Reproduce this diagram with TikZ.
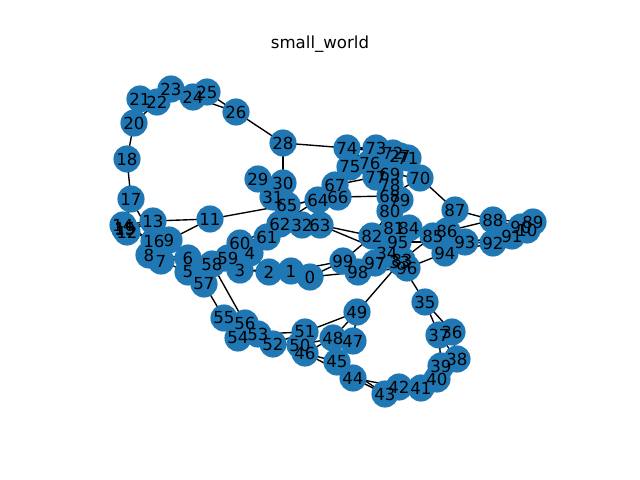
\documentclass[tikz,border=0pt]{standalone}
\usepackage{fontspec}
\setmainfont{DejaVu Sans}
\usetikzlibrary{backgrounds}
\definecolor{nodeblue}{HTML}{1F77B4}
\begin{document}
\begin{tikzpicture}[x=0.025cm,y=-0.025cm,
  vertex/.style={circle,fill=nodeblue,draw=none,minimum size=19.3pt,inner sep=0pt},
  vlabel/.style={inner sep=0pt,font=\fontsize{11.8}{12}\selectfont},
  link/.style={line width=0.98pt,black}]
\useasboundingbox (0,0) rectangle (640,480);
\node[vlabel] (title) at (320,44) {small\_world};
% vertices
\foreach \n/\x/\y in {
  0/310/277, 1/291/271, 2/269/272, 3/240/270, 4/250/253, 5/188/272, 6/188/258,
  7/161/261, 8/149/255, 9/169/240, 10/527/230, 11/210/219, 12/127/232, 13/153/221,
  14/123/225, 15/125/229, 16/154/241, 17/131/199, 18/127/159, 19/125/229, 20/134/123,
  21/140/99, 22/157/102, 23/171/89, 24/193/97, 25/207/92, 26/236/112, 27/400/156,
  28/283/143, 29/258/179, 30/283/183, 31/273/197, 32/302/225, 33/400/262, 34/387/253,
  35/425/302, 36/452/332, 37/439/335, 38/457/359, 39/441/366, 40/437/379, 41/421/388,
  42/399/387, 43/385/394, 44/353/378, 45/337/362, 46/305/353, 47/353/341, 48/333/338,
  49/357/312, 50/300/345, 51/305/332, 52/273/344, 53/258/334, 54/238/338, 55/224/318,
  56/245/323, 57/204/284, 58/212/264, 59/228/258, 60/240/243, 61/267/237, 62/280/224,
  63/320/225, 64/318/200, 65/287/205, 66/338/197, 67/335/185, 68/390/196, 69/390/174,
  70/420/178, 71/408/158, 72/393/153, 73/376/148, 74/347/148, 75/350/167, 76/370/163,
  77/376/177, 78/390/185, 79/400/200, 80/390/211, 81/394/228, 82/372/236, 83/402/260,
  84/409/228, 85/433/236, 86/447/231, 87/455/210, 88/493/220, 89/533/222, 90/521/227,
  91/512/236, 92/493/243, 93/465/242, 94/445/253, 95/398/242, 96/407/268, 97/375/263,
  98/358/272, 99/343/261}
  \node[vertex] (v\n) at (\x,\y) {};
% edges, kept behind the vertices
\begin{scope}[on background layer]
\foreach \a/\b in {
  0/1,0/2,1/2,1/3,2/3,2/4,3/4,3/5,4/5,4/6,5/6,5/7,6/7,6/8,7/8,7/9,8/9,9/11,
  11/13,11/65,12/13,13/14,12/14,12/15,13/15,14/15,14/16,15/16,15/17,16/17,17/18,
  17/19,14/19,18/20,20/21,20/22,21/22,21/23,22/23,22/24,23/24,23/25,24/25,24/26,
  25/26,26/28,28/30,28/74,29/30,29/31,30/31,30/32,31/32,33/34,33/35,
  35/36,35/37,36/37,36/38,37/38,37/39,38/39,38/40,39/40,39/41,40/41,40/42,41/42,
  41/43,42/43,42/44,43/44,43/45,44/45,44/46,45/46,45/47,46/48,48/50,47/48,47/49,
  48/49,49/51,49/83,50/51,50/52,51/52,51/53,52/53,52/54,53/54,53/55,54/55,54/56,
  55/56,55/57,56/58,57/58,57/59,58/59,58/60,59/60,59/61,60/61,60/62,61/62,61/63,
  62/63,62/64,63/64,63/65,64/65,64/66,65/66,66/67,66/68,67/69,68/69,68/70,69/70,
  69/71,70/71,70/72,71/72,71/73,72/73,72/74,73/74,73/75,74/75,74/76,75/76,75/77,
  76/77,76/78,77/78,77/79,78/79,78/80,79/80,79/81,80/81,80/82,81/82,81/83,82/83,
  82/84,83/84,83/85,84/85,84/86,85/86,85/87,86/87,86/88,87/88,70/87,88/89,88/90,
  89/90,89/91,90/91,90/92,91/92,91/93,92/93,92/94,93/94,93/95,94/96,95/96,95/97,
  96/97,96/98,97/98,97/99,98/99,98/0,99/0,99/1,99/82,63/82,63/34,10/89,10/90,
  27/71,27/72}
  \draw[link] (v\a.center) -- (v\b.center);
\end{scope}
% labels on top of all vertices
\foreach \n in {0,...,99}
  \node[vlabel] (t\n) at (v\n) {\n};
\end{tikzpicture}
\end{document}
